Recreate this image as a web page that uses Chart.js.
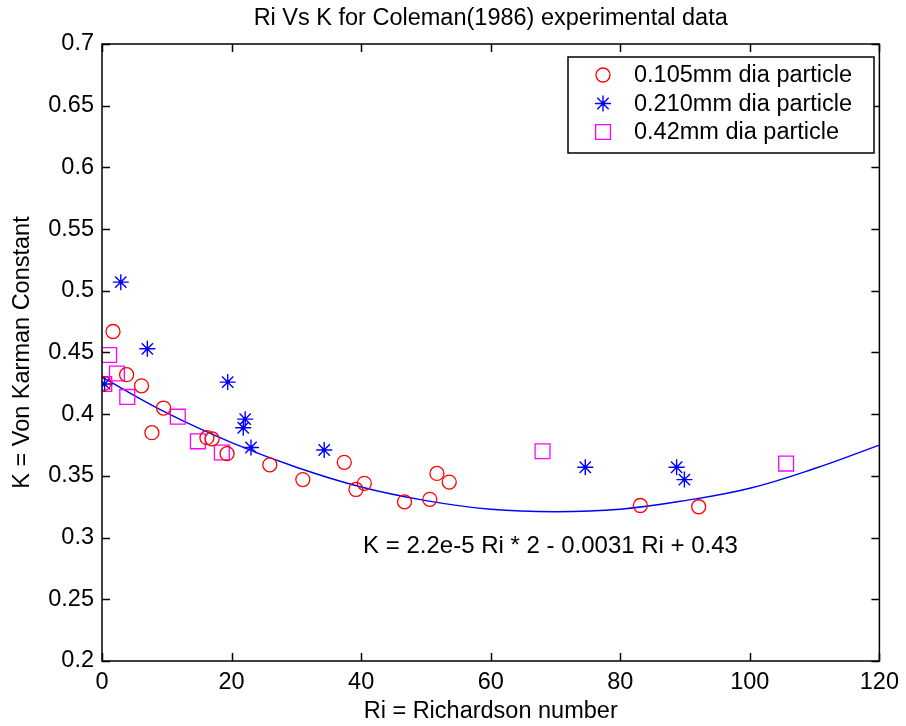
<!DOCTYPE html>
<html>
<head>
<meta charset="utf-8">
<script src="https://cdn.jsdelivr.net/npm/chart.js@4/dist/chart.umd.min.js"></script>
<style>
  html, body { margin: 0; padding: 0; background: #fff; }
  #wrap { width: 906px; height: 726px; }
</style>
</head>
<body>
<div id="wrap"><canvas id="riChart" width="906" height="726"></canvas></div>
<script>
// values
const ri105 = [0.3, 1.7, 3.8, 6.1, 7.7, 9.5, 16.2, 17.0, 19.3, 25.9, 31.0, 37.4, 39.2, 40.5, 46.7, 50.6, 51.7, 53.6, 83.1, 92.1];
const k105  = [0.425, 0.467, 0.432, 0.423, 0.385, 0.405, 0.381, 0.380, 0.368, 0.359, 0.347, 0.361, 0.339, 0.344, 0.329, 0.331, 0.352, 0.345, 0.326, 0.325];

const ri210 = [0.4, 2.9, 7.0, 19.4, 22.1, 21.8, 23.0, 34.3, 74.6, 88.7, 89.9];
const k210  = [0.4245, 0.507, 0.453, 0.426, 0.396, 0.389, 0.373, 0.371, 0.357, 0.357, 0.347];

const ri42 = [0.35, 1.1, 2.3, 3.9, 11.7, 14.8, 18.5, 68.0, 105.6];
const k42  = [0.4245, 0.448, 0.433, 0.414, 0.398, 0.378, 0.369, 0.370, 0.360];

// fitted curve, read at every 10 along Ri
const fitRi = [0, 10, 20, 30, 40, 50, 60, 70, 80, 90, 100, 110, 120];
const fitK  = [0.430, 0.401, 0.377, 0.357, 0.341, 0.330, 0.323, 0.321, 0.323, 0.330, 0.340, 0.356, 0.375];

const xTicks = [0, 20, 40, 60, 80, 100, 120];
const yTicks = [0.2, 0.25, 0.3, 0.35, 0.4, 0.45, 0.5, 0.55, 0.6, 0.65, 0.7];

const fitLabel = 'K = 2.2e-5 Ri * 2 - 0.0031 Ri + 0.43';
const fitLabelAt = { x: 40.3, y: 0.293 };

const toPts = (xs, ys) => xs.map((x, i) => ({ x: x, y: ys[i] }));

const FONT = "'Liberation Sans', Arial, sans-serif";
const FS = 23.5;

// box, inward ticks, title, fit label and legend
const matlabFrame = {
  id: 'matlabFrame',
  afterDraw(chart) {
    const { ctx, chartArea: a, scales } = chart;
    const xs = scales.x, ys = scales.y;
    ctx.save();
    ctx.strokeStyle = '#000';
    ctx.lineWidth = 1.5;
    ctx.strokeRect(a.left, a.top, a.right - a.left, a.bottom - a.top);
    ctx.beginPath();
    xTicks.forEach(t => {
      const px = Math.round(xs.getPixelForValue(t)) + 0.5;
      ctx.moveTo(px, a.bottom); ctx.lineTo(px, a.bottom - 8);
      ctx.moveTo(px, a.top); ctx.lineTo(px, a.top + 8);
    });
    yTicks.forEach(t => {
      const py = Math.round(ys.getPixelForValue(t)) + 0.5;
      ctx.moveTo(a.left, py); ctx.lineTo(a.left + 8, py);
      ctx.moveTo(a.right, py); ctx.lineTo(a.right - 8, py);
    });
    ctx.stroke();

    // title
    ctx.fillStyle = '#000';
    ctx.font = FS + 'px ' + FONT;
    ctx.textAlign = 'center';
    ctx.textBaseline = 'middle';
    ctx.fillText('Ri Vs K for Coleman(1986) experimental data', (a.left + a.right) / 2, 19);

    // fit equation
    ctx.font = '24px ' + FONT;
    ctx.textAlign = 'left';
    ctx.fillText(fitLabel, xs.getPixelForValue(fitLabelAt.x), ys.getPixelForValue(fitLabelAt.y));

    // legend
    ctx.font = FS + 'px ' + FONT;
    const lx = 568, ly = 57, lw = 306, lh = 96;
    ctx.fillStyle = '#fff';
    ctx.fillRect(lx, ly, lw, lh);
    ctx.strokeStyle = '#000';
    ctx.lineWidth = 1.5;
    ctx.strokeRect(lx, ly, lw, lh);
    chart.data.datasets.slice(0, 3).forEach((ds, i) => {
      const cy = ly + 18 + i * 28.5;
      ctx.strokeStyle = ds.borderColor;
      ctx.fillStyle = 'rgba(0,0,0,0)';
      ctx.lineWidth = ds.borderWidth;
      Chart.helpers.drawPoint(ctx, {
        pointStyle: ds.pointStyle, radius: ds.pointRadius, borderWidth: ds.borderWidth
      }, 603, cy);
      if (ds.pointStyle === 'star') {
        ctx.fillStyle = ds.borderColor;
        ctx.beginPath(); ctx.arc(603, cy, 2, 0, Math.PI * 2); ctx.fill();
      }
      ctx.fillStyle = '#000';
      ctx.fillText(ds.label, 634, cy + 1);
    });
    ctx.restore();
  }
};

// small filled centre on the star markers
const starDots = {
  id: 'starDots',
  afterDatasetsDraw(chart) {
    const { ctx } = chart;
    const meta = chart.getDatasetMeta(1);
    ctx.save();
    ctx.fillStyle = '#0000ff';
    meta.data.forEach(p => {
      ctx.beginPath(); ctx.arc(p.x, p.y, 2, 0, Math.PI * 2); ctx.fill();
    });
    ctx.restore();
  }
};

new Chart(document.getElementById('riChart'), {
  type: 'scatter',
  data: {
    datasets: [
      {
        label: '0.105mm dia particle',
        data: toPts(ri105, k105),
        pointStyle: 'circle',
        pointRadius: 7,
        borderColor: '#ff0000',
        backgroundColor: 'rgba(0,0,0,0)',
        borderWidth: 1.3
      },
      {
        label: '0.210mm dia particle',
        data: toPts(ri210, k210),
        pointStyle: 'star',
        pointRadius: 8,
        borderColor: '#0000ff',
        backgroundColor: '#0000ff',
        borderWidth: 1.4
      },
      {
        label: '0.42mm dia particle',
        data: toPts(ri42, k42),
        pointStyle: 'rect',
        pointRadius: 10.5,
        borderColor: '#ff00ff',
        backgroundColor: 'rgba(0,0,0,0)',
        borderWidth: 1.3
      },
      {
        label: 'fit',
        type: 'line',
        data: toPts(fitRi, fitK),
        borderColor: '#0000ff',
        borderWidth: 1.4,
        pointRadius: 0,
        tension: 0.4,
        fill: false
      }
    ]
  },
  options: {
    responsive: false,
    animation: false,
    layout: { padding: { left: 0, top: 44, right: 21, bottom: 0 } },
    plugins: {
      legend: { display: false },
      tooltip: { enabled: false }
    },
    scales: {
      x: {
        type: 'linear',
        min: 0, max: 120,
        afterBuildTicks: s => { s.ticks = xTicks.map(v => ({ value: v })); },
        afterFit: s => { s.height = 65; },
        grid: { display: false, drawTicks: false },
        border: { display: false },
        ticks: { color: '#000', font: { family: FONT, size: FS }, padding: 7, maxRotation: 0 },
        title: {
          display: true, text: 'Ri = Richardson number', color: '#000',
          font: { family: FONT, size: FS }, padding: { top: 0, bottom: 0 }
        }
      },
      y: {
        type: 'linear',
        min: 0.2, max: 0.7,
        afterBuildTicks: s => { s.ticks = yTicks.map(v => ({ value: v })); },
        afterFit: s => { s.width = 102; },
        grid: { display: false, drawTicks: false },
        border: { display: false },
        ticks: {
          color: '#000', font: { family: FONT, size: FS }, padding: 8,
          callback: v => String(Math.round(v * 100) / 100)
        },
        title: {
          display: true, text: 'K = Von Karman Constant', color: '#000',
          font: { family: FONT, size: FS }, padding: { top: 8, bottom: 0 }
        }
      }
    }
  },
  plugins: [starDots, matlabFrame]
});
</script>
</body>
</html>
